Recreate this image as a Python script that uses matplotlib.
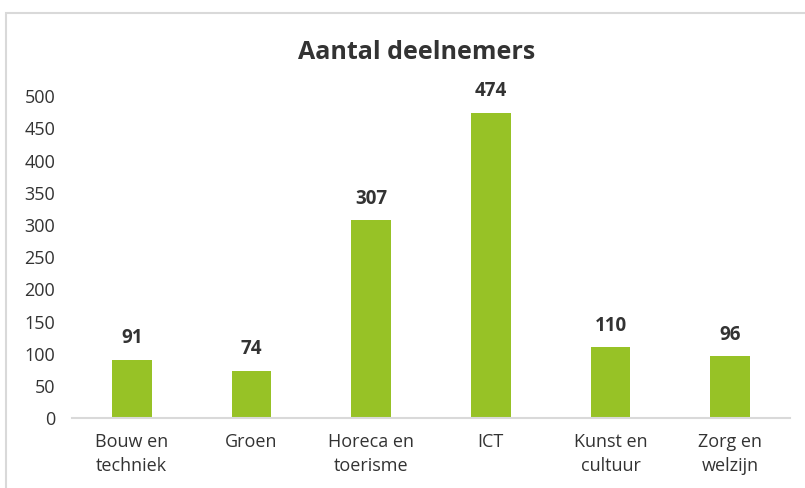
import matplotlib.pyplot as plt
from matplotlib.patches import Rectangle

categories = ["Bouw en\ntechniek", "Groen", "Horeca en\ntoerisme", "ICT", "Kunst en\ncultuur", "Zorg en\nwelzijn"]
deelnemers = [91, 74, 307, 474, 110, 96]
y_ticks = [0, 50, 100, 150, 200, 250, 300, 350, 400, 450, 500]

plt.rcParams['font.family'] = ['Open Sans', 'DejaVu Sans']
text_color = '#333333'

fig = plt.figure(figsize=(8.05, 4.88), dpi=100)
ax = fig.add_axes([0.0894, 0.143, 0.892, 0.66])

bars = ax.bar(categories, deelnemers, width=0.33, color='#97c226')
for rect, val in zip(bars, deelnemers):
    ax.text(rect.get_x() + rect.get_width() / 2, val + 18, str(val),
            ha='center', va='bottom', fontsize=13.5, fontweight='bold',
            color=text_color, clip_on=False)

ax.set_ylim(0, 500)
ax.set_xlim(-0.5, len(categories) - 0.5)
ax.set_yticks(y_ticks)
ax.tick_params(axis='y', length=0, labelsize=13, labelcolor=text_color, pad=12)
ax.tick_params(axis='x', length=0, labelsize=13, labelcolor=text_color, pad=11)
for lbl in ax.get_xticklabels():
    lbl.set_linespacing(1.4)
for s in ['top', 'right', 'left']:
    ax.spines[s].set_visible(False)
ax.spines['bottom'].set_color('#d9d9d9')
ax.spines['bottom'].set_linewidth(1.5)

fig.text(0.518, 0.893, "Aantal deelnemers", ha='center', va='center',
         fontsize=18, fontweight='bold', color=text_color)

# outer border of the chart, cut off at the right and bottom
fig.patches.append(Rectangle((6 / 805, -0.05), 1.0, 0.05 + (488 - 13) / 488,
                             transform=fig.transFigure, fill=False,
                             edgecolor='#d9d9d9', linewidth=1.5))

fig.savefig("out.png", dpi=100)
